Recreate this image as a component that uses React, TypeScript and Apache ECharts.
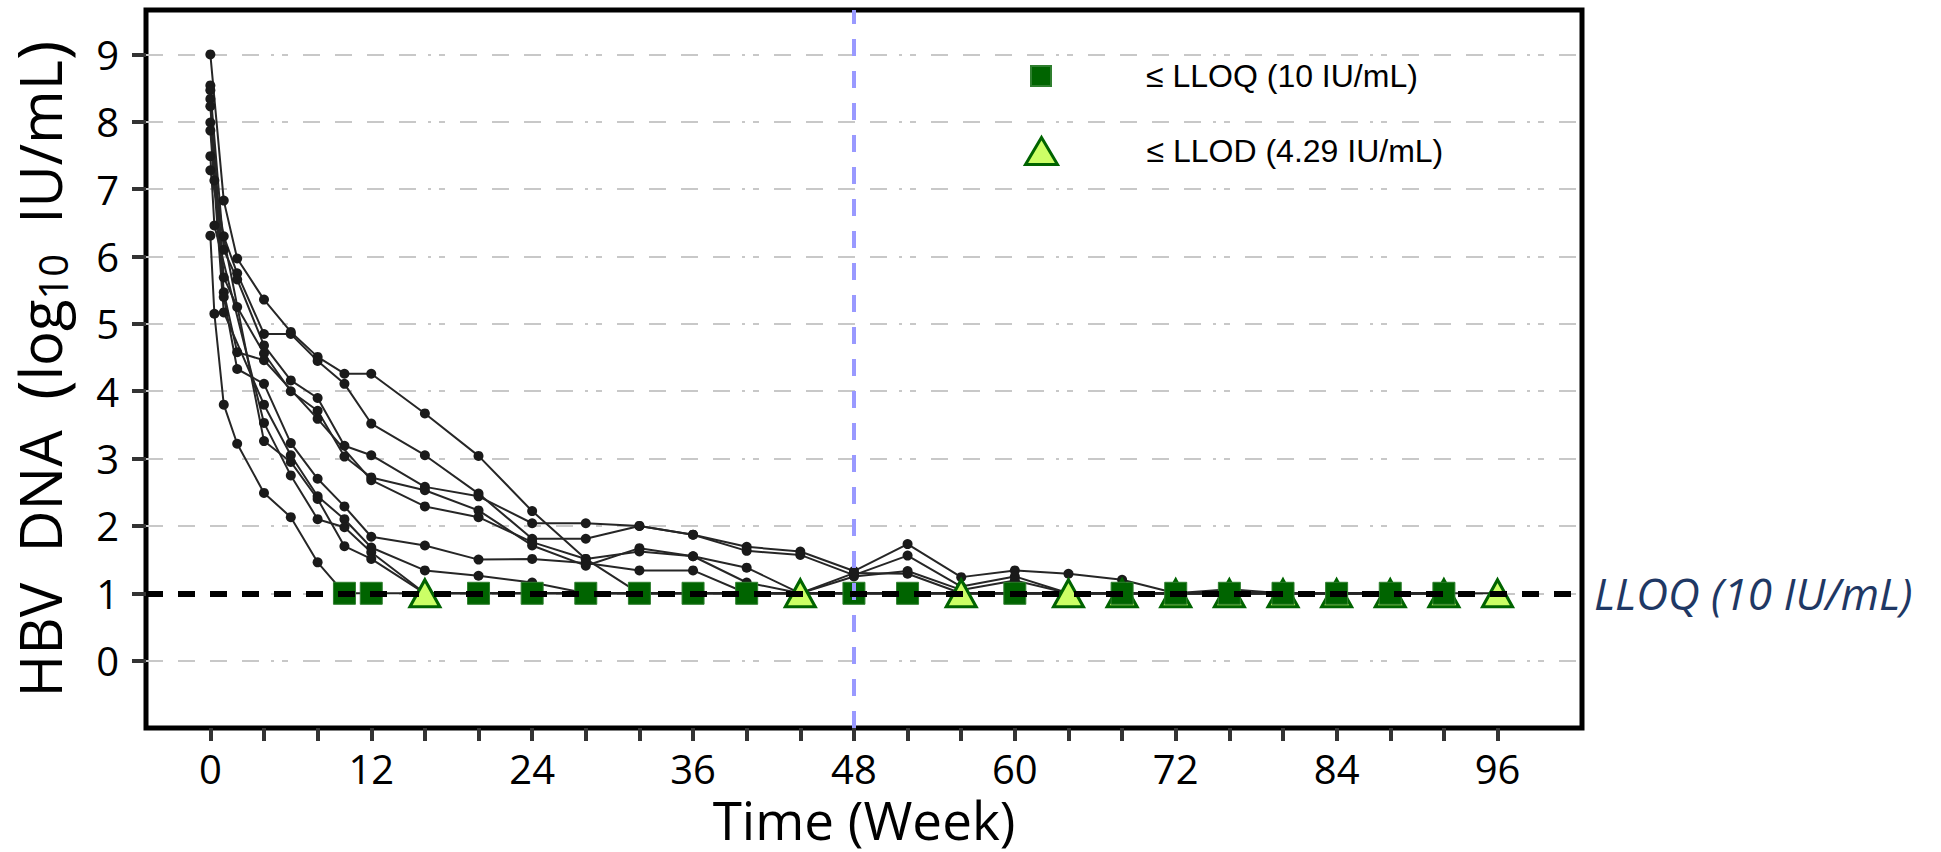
import React, { useEffect, useRef } from "react";
import * as echarts from "echarts";

// Patient HBV DNA trajectories: [week, log10 IU/mL]
const P1 = [[0, 9.0], [1, 6.83], [2, 5.97], [4, 5.36], [6, 4.88], [8, 4.51], [10, 4.26], [12, 4.26], [16, 3.67], [20, 3.04], [24, 2.22], [28, 1.51], [32, 1.0], [36, 1.0], [40, 1.0], [44, 1.0], [48, 1.0], [52, 1.0], [56, 1.0], [60, 1.0], [64, 1.0], [68, 1.0], [72, 1.0], [76, 1.0], [80, 1.0], [84, 1.0], [88, 1.0], [92, 1.0], [96, 1.0]];
const P2 = [[0, 8.54], [0.3, 7.13], [1, 6.3], [2, 5.75], [4, 4.85], [6, 4.85], [8, 4.45], [10, 4.11], [12, 3.52], [16, 3.05], [20, 2.48], [24, 1.81], [28, 1.81], [32, 2.0], [36, 1.87], [40, 1.69], [44, 1.62], [48, 1.33], [52, 1.73], [56, 1.24], [60, 1.34], [64, 1.29], [68, 1.2], [72, 1.0], [76, 1.0], [80, 1.0], [84, 1.0], [88, 1.0], [92, 1.0]];
const P3 = [[0, 8.47], [1, 6.1], [2, 5.66], [4, 4.68], [6, 4.16], [8, 3.9], [10, 3.19], [12, 3.05], [16, 2.58], [20, 2.44], [24, 2.04], [28, 2.04], [32, 2.0], [36, 1.87], [40, 1.63], [44, 1.57], [48, 1.27], [52, 1.56], [56, 1.1], [60, 1.25], [64, 1.0], [68, 1.0], [72, 1.0], [76, 1.06], [80, 1.0], [84, 1.0], [88, 1.0], [92, 1.0]];
const P4 = [[0, 8.34], [1, 5.69], [2, 5.25], [4, 4.56], [6, 4.0], [8, 3.71], [10, 3.03], [12, 2.72], [16, 2.53], [20, 2.23], [24, 1.71], [28, 1.41], [32, 1.67], [36, 1.55], [40, 1.38], [44, 1.0], [48, 1.25], [52, 1.33], [56, 1.05], [60, 1.19], [64, 1.0], [68, 1.0], [72, 1.0], [76, 1.0], [80, 1.0], [84, 1.0], [88, 1.0], [92, 1.0]];
const P5 = [[0, 8.23], [1, 5.47], [2, 4.58], [4, 4.46], [8, 3.59], [12, 2.68], [16, 2.29], [20, 2.13], [24, 1.76], [28, 1.51], [32, 1.62], [36, 1.55], [40, 1.16], [44, 1.0], [48, 1.3], [52, 1.29], [56, 1.0], [60, 1.0], [64, 1.0], [68, 1.0], [72, 1.0], [76, 1.0], [80, 1.0], [84, 1.0], [88, 1.0], [92, 1.0]];
const P6 = [[0, 7.99], [1, 5.4], [2, 4.33], [4, 4.11], [6, 3.23], [8, 2.7], [10, 2.29], [12, 1.84], [16, 1.71], [20, 1.5], [24, 1.51], [28, 1.45], [32, 1.34], [36, 1.34], [40, 1.0], [44, 1.0], [48, 1.0], [52, 1.0], [56, 1.0], [60, 1.0], [64, 1.0], [68, 1.0], [72, 1.0], [76, 1.0], [80, 1.0], [84, 1.0], [88, 1.0], [92, 1.0]];
const P7 = [[0, 7.87], [1, 5.17], [4, 3.8], [6, 3.05], [8, 2.44], [10, 2.1], [12, 1.68], [16, 1.34], [20, 1.26], [24, 1.16], [28, 1.0], [32, 1.0], [36, 1.0], [40, 1.0], [44, 1.0], [48, 1.0], [52, 1.0], [56, 1.0], [60, 1.0], [64, 1.0], [68, 1.0], [72, 1.0], [76, 1.0], [80, 1.0], [84, 1.0], [88, 1.0], [92, 1.0]];
const P8 = [[0, 7.49], [0.3, 6.46], [4, 3.53], [6, 2.75], [8, 2.1], [10, 1.98], [12, 1.61], [16, 1.0], [20, 1.0], [24, 1.0], [28, 1.0], [32, 1.0], [36, 1.0], [40, 1.0], [44, 1.0], [48, 1.0], [52, 1.0], [56, 1.0], [60, 1.0], [64, 1.0], [68, 1.0], [72, 1.0], [76, 1.0], [80, 1.0], [84, 1.0], [88, 1.0], [92, 1.0]];
const P9 = [[0, 7.28], [4, 3.26], [6, 2.95], [8, 2.4], [10, 1.7], [12, 1.51], [16, 1.0], [20, 1.0], [24, 1.0], [28, 1.0], [32, 1.0], [36, 1.0], [40, 1.0], [44, 1.0], [48, 1.0], [52, 1.0], [56, 1.0], [60, 1.0], [64, 1.0], [68, 1.0], [72, 1.0], [76, 1.0], [80, 1.0], [84, 1.0], [88, 1.0], [92, 1.0]];
const P10 = [[0, 6.31], [0.3, 5.15], [1, 3.8], [2, 3.22], [4, 2.49], [6, 2.13], [8, 1.46], [10, 1.0], [12, 1.0], [16, 1.0], [20, 1.0], [24, 1.0], [28, 1.0], [32, 1.0], [36, 1.0], [40, 1.0], [44, 1.0], [48, 1.0], [52, 1.0], [56, 1.0], [60, 1.0], [64, 1.0], [68, 1.0], [72, 1.0], [76, 1.0], [80, 1.0], [84, 1.0], [88, 1.0], [92, 1.0]];
const patients = [P1, P2, P3, P4, P5, P6, P7, P8, P9, P10];

// Markers at LLOQ (value 1 = log10 10 IU/mL)
const LLOQ_VALUE = 1;
const lloqWeeks = [10, 12, 20, 24, 28, 32, 36, 40, 48, 52, 60, 68, 72, 76, 80, 84, 88, 92];
const llodWeeksUnder = [68, 72, 76, 80, 84, 88, 92];
const llodWeeksTop = [16, 44, 56, 64, 96];
const endOfTreatmentWeek = 48;

// Axis ticks and labels
const xTickValues = [0, 4, 8, 12, 16, 20, 24, 28, 32, 36, 40, 44, 48, 52, 56, 60, 64, 68, 72, 76, 80, 84, 88, 92, 96];
const xLabelValues = [0, 12, 24, 36, 48, 60, 72, 84, 96];
const yTickValues = [0, 1, 2, 3, 4, 5, 6, 7, 8, 9];

const LLOQ_NAME = "≤ LLOQ (10 IU/mL)";
const LLOD_NAME = "≤ LLOD (4.29 IU/mL)";

export default function App() {
  const ref = useRef<HTMLDivElement>(null);
  useEffect(() => {
    if (!ref.current) return;
    const chart = echarts.init(ref.current, undefined, { renderer: "svg" });
    const font = "Open Sans";
    const gridDash = [17, 15, 17, 15, 17, 15, 17, 12, 3, 8, 6, 15];
    const legendText = { fontFamily: "Liberation Sans", fontSize: 32, color: "#000" };

    const patientSeries = patients.map((p, i) => ({
      type: "line",
      name: "P" + (i + 1),
      data: p.map(([w, v]) => ({ value: [w, v], symbol: v > LLOQ_VALUE ? "circle" : "none" })),
      symbolSize: 10,
      showAllSymbol: true,
      itemStyle: { color: "#1a1a1a" },
      lineStyle: { color: "#262626", width: 2 },
      z: 2,
      silent: true,
    }));

    const option: any = {
      animation: false,
      backgroundColor: "#fff",
      textStyle: { fontFamily: font },
      grid: {
        left: 146, top: 10, width: 1436, height: 718,
        outerBoundsMode: "none", containLabel: false,
        show: true, borderColor: "#000", borderWidth: 5, backgroundColor: "transparent",
      },
      legend: [
        {
          orient: "vertical",
          left: 1025,
          top: 55,
          itemWidth: 20,
          itemHeight: 20,
          selectedMode: false,
          textStyle: { ...legendText, padding: [0, 0, 0, 90] },
          data: [{ name: LLOQ_NAME, icon: "rect" }],
        },
        {
          orient: "vertical",
          left: 1019,
          top: 130,
          itemWidth: 32,
          itemHeight: 27,
          selectedMode: false,
          itemStyle: { borderWidth: 3, borderColor: "#006400" },
          textStyle: { ...legendText, padding: [0, 0, 0, 84] },
          data: [{ name: LLOD_NAME, icon: "triangle" }],
        },
      ],
      xAxis: {
        type: "value",
        min: -4.8,
        max: 102.3,
        axisLine: { show: false, onZero: false },
        axisTick: { show: true, customValues: xTickValues, length: 13, lineStyle: { color: "#333", width: 4 } },
        axisLabel: { customValues: xLabelValues, fontSize: 40, lineHeight: 40, color: "#000", margin: 20, fontFamily: font },
        splitLine: { show: false },
        name: "Time (Week)",
        nameLocation: "middle",
        nameGap: 62,
        nameTextStyle: { fontSize: 53, lineHeight: 53, color: "#000", fontFamily: font },
      },
      yAxis: {
        type: "value",
        min: -1,
        max: 9.66,
        interval: 1,
        axisLine: { show: false, onZero: false },
        axisTick: { show: true, customValues: yTickValues, length: 14, lineStyle: { color: "#333", width: 4 } },
        axisLabel: { customValues: yTickValues, fontSize: 40, color: "#000", margin: 27, fontFamily: font },
        splitLine: { show: true, lineStyle: { color: "#c8c8c8", width: 2, type: gridDash } },
        name: "{t|HBV  DNA  }{p|(}{t|log}{s|10}{t|  IU/mL}{p|)}",
        nameLocation: "middle",
        nameRotate: 90,
        nameGap: 74,
        nameTextStyle: {
          color: "#000",
          fontFamily: font,
          fontSize: 58,
          rich: {
            t: { fontSize: 58, color: "#000", fontFamily: font },
            p: { fontSize: 66, color: "#000", fontFamily: font },
            s: { fontSize: 40, color: "#000", fontFamily: font, verticalAlign: "bottom" },
          },
        },
      },
      series: [
        ...patientSeries,
        {
          type: "scatter",
          name: "LLOD_under",
          data: llodWeeksUnder.map((w) => [w, LLOQ_VALUE]),
          symbol: "triangle",
          symbolSize: [30, 27],
          itemStyle: { color: "#ccff66", borderColor: "#006400", borderWidth: 3, opacity: 1 },
          z: 3,
          silent: true,
        },
        {
          type: "scatter",
          name: LLOQ_NAME,
          data: lloqWeeks.map((w) => [w, LLOQ_VALUE]),
          symbol: "rect",
          symbolSize: 22,
          itemStyle: { color: "#006400", borderColor: "#2f7f2f", borderWidth: 1, opacity: 1 },
          z: 4,
          silent: true,
        },
        {
          type: "scatter",
          name: LLOD_NAME,
          data: llodWeeksTop.map((w) => [w, LLOQ_VALUE]),
          symbol: "triangle",
          symbolSize: [30, 27],
          itemStyle: { color: "#ccff66", borderColor: "#006400", borderWidth: 3, opacity: 1 },
          z: 4,
          silent: true,
        },
        {
          type: "line",
          name: "refs",
          data: [],
          silent: true,
          z: 6,
          markLine: {
            silent: true,
            symbol: ["none", "none"],
            z: 6,
            data: [
              { xAxis: endOfTreatmentWeek, lineStyle: { color: "#9999ff", width: 4, type: [17, 15] }, label: { show: false } },
              {
                yAxis: LLOQ_VALUE,
                lineStyle: { color: "#000", width: 6, type: [17, 15] },
                label: {
                  show: true,
                  position: "end",
                  distance: 12,
                  formatter: "LLOQ (10 IU/mL)",
                  fontStyle: "italic",
                  fontFamily: font,
                  fontSize: 44,
                  color: "#1f3864",
                },
              },
            ],
          },
        },
      ],
    };
    chart.setOption(option);
    return () => chart.dispose();
  }, []);
  return <div ref={ref} style={{ position: "fixed", left: 0, top: 0, width: 1941, height: 852, background: "#fff" }} />;
}
